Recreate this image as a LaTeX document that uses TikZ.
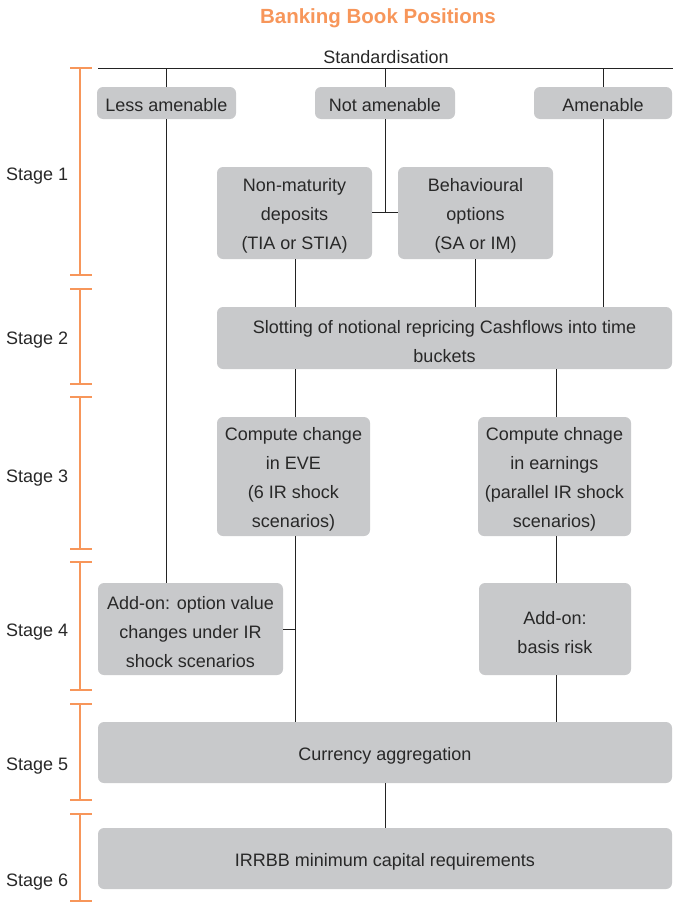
\documentclass[tikz,border=0pt]{standalone}
\usepackage{fontspec}
\setmainfont{Liberation Sans}
\definecolor{boxgray}{RGB}{200,201,203}
\definecolor{txtgray}{RGB}{40,40,40}
\definecolor{stageorange}{RGB}{247,150,90}
\definecolor{linegray}{RGB}{35,35,35}
\newcommand{\topstrut}{\rule{0pt}{19.5pt}}
\begin{document}
\begin{tikzpicture}[x=1pt,y=-1pt,
  every node/.style={text=txtgray,font=\fontsize{18}{29}\selectfont},
  gbox/.style={fill=boxgray,rounded corners=6pt,inner sep=0pt,align=center},
  onebox/.style={gbox,text height=16pt,text depth=0pt},
  multibox/.style={gbox},
  conn/.style={draw=linegray,line width=1pt},
  stagebar/.style={draw=stageorange,line width=2pt},
  stagelabel/.style={anchor=west,inner sep=0pt}]
\useasboundingbox (0,0) rectangle (673,902);

% title and standardisation
\node[font=\fontsize{20.5}{24}\selectfont\bfseries,text=stageorange] (title) at (378,18) {Banking Book Positions};
\node (std) at (386,57.5) {Standardisation};
\coordinate (stdl) at (98,68);
\coordinate (stdr) at (673,68);

% boxes
\node[onebox,minimum width=139pt,minimum height=32pt] (less) at (166.5,103) {Less amenable};
\node[onebox,minimum width=140pt,minimum height=32pt] (notam) at (385,103) {Not amenable};
\node[onebox,minimum width=138pt,minimum height=32pt] (amen) at (603,103) {Amenable};
\node[multibox,minimum width=155pt,minimum height=92pt] (nmd) at (294.5,213) {\topstrut Non-maturity\\deposits\\(TIA or STIA)};
\node[multibox,minimum width=155pt,minimum height=92pt] (beh) at (475.5,213) {\topstrut Behavioural\\options\\(SA or IM)};
\node[multibox,minimum width=455pt,minimum height=62pt] (slot) at (444.5,338) {\topstrut Slotting of notional repricing Cashflows into time\\buckets};
\node[multibox,minimum width=153pt,minimum height=119pt] (eve) at (293.5,476.5) {\topstrut Compute change\\in EVE\\(6 IR shock\\scenarios)};
\node[multibox,minimum width=153pt,minimum height=119pt] (earn) at (554.5,476.5) {\topstrut Compute chnage\\in earnings\\(parallel IR shock\\scenarios)};
\node[multibox,minimum width=185pt,minimum height=92pt] (opt) at (190.5,629) {\topstrut Add-on: option value\\changes under IR\\shock scenarios};
\node[multibox,minimum width=152pt,minimum height=92pt] (basis) at (555,629) {\topstrut Add-on:\\basis risk};
\node[onebox,minimum width=574pt,minimum height=61pt] (cur) at (385,752.5) {Currency aggregation};
\node[onebox,minimum width=574pt,minimum height=61pt] (irr) at (385,858.5) {IRRBB minimum capital requirements};

% connectors
\draw[conn] (stdl) -- (stdr);
\draw[conn] (stdl -| less.north) -- (less.north);
\draw[conn] (stdl -| notam.north) -- (notam.north);
\draw[conn] (stdl -| amen.north) -- (amen.north);
\draw[conn] (less.south) -- (less.south |- opt.north);
\coordinate (mid) at (385,212);
\draw[conn] (notam.south) -- (mid);
\draw[conn] (nmd.east |- mid) -- (beh.west |- mid);
\draw[conn] (amen.south) -- (amen.south |- slot.north);
\draw[conn] (295,259) -- (295,307);
\draw[conn] (beh.south) -- (beh.south |- slot.north);
\draw[conn] (295,369) -- (295,417);
\draw[conn] (556,369) -- (556,417);
\draw[conn] (295,536) -- (295,722);
\coordinate (optj) at (295,629);
\draw[conn] (opt.east) -- (optj);
\draw[conn] (556,536) -- (556,583);
\draw[conn] (556,675) -- (556,722);
\draw[conn] (cur.south) -- (irr.north);

% stage bars
\foreach \t/\b/\ly/\n in {68/275/174/1, 289/384/338/2, 397/549/476/3, 562/690/630/4, 704/800/764/5, 814/901/880/6}{
  \draw[stagebar] (80,\t) -- (80,\b);
  \draw[stagebar] (70,\t) -- (92,\t);
  \draw[stagebar] (70,\b) -- (92,\b);
  \node[stagelabel] (stage\n) at (6,\ly+2) {Stage \n};
}
\end{tikzpicture}
\end{document}
